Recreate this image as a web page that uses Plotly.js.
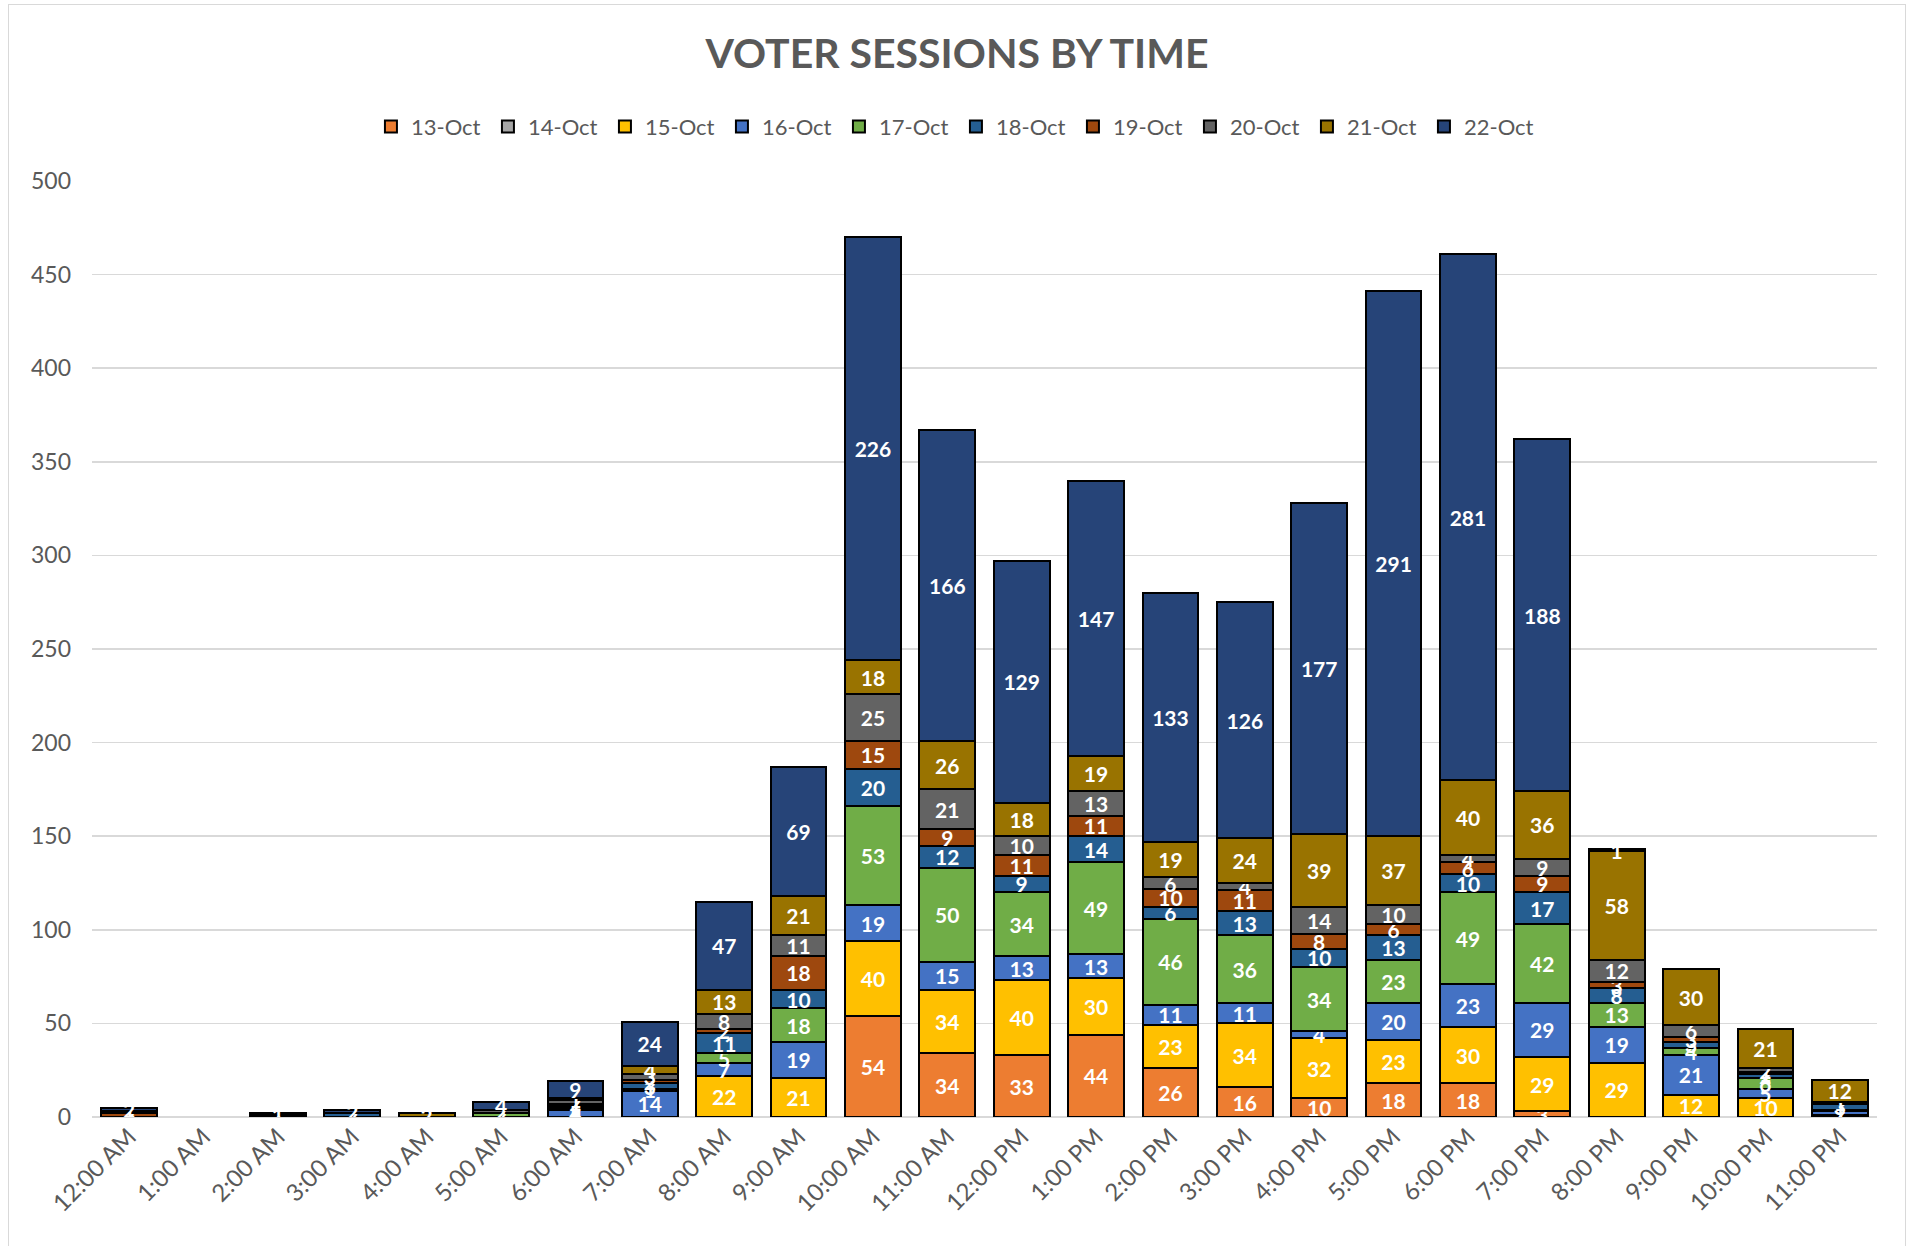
<!DOCTYPE html>
<html>
<head>
<meta charset="utf-8">
<script src="https://cdn.plot.ly/plotly-3.0.1.min.js"></script>
<style>
  html, body { margin: 0; padding: 0; background: #fff; }
  #wrap { position: relative; width: 1914px; height: 1246px; }
  #frame { position: absolute; left: 8px; top: 4px; width: 1898px; height: 1250px; border: 1.5px solid #d9d9d9; box-sizing: border-box; pointer-events: none; }
  #chart { position: absolute; left: 0; top: 0; width: 1914px; height: 1246px; }
</style>
</head>
<body>
<div id="wrap">
  <div id="chart"></div>
  <div id="frame"></div>
</div>
<script>
const times = ["12:00 AM","1:00 AM","2:00 AM","3:00 AM","4:00 AM","5:00 AM","6:00 AM","7:00 AM","8:00 AM","9:00 AM","10:00 AM","11:00 AM","12:00 PM","1:00 PM","2:00 PM","3:00 PM","4:00 PM","5:00 PM","6:00 PM","7:00 PM","8:00 PM","9:00 PM","10:00 PM","11:00 PM"];

const seriesNames = ["13-Oct","14-Oct","15-Oct","16-Oct","17-Oct","18-Oct","19-Oct","20-Oct","21-Oct","22-Oct"];
const seriesColors = ["#ED7D31","#A5A5A5","#FFC000","#4472C4","#70AD47","#255E91","#9E480E","#636363","#997300","#264478"];

//                12A 1A 2A 3A 4A 5A 6A 7A 8A  9A 10A 11A 12P 1P  2P  3P  4P  5P  6P  7P  8P  9P 10P 11P
const oct13 =   [  0, 0, 0, 0, 0, 0, 0, 0, 0,  0, 54, 34, 33, 44, 26, 16, 10, 18, 18,  3,  0,  0,  0,  0];
const oct14 =   [  0, 0, 0, 0, 0, 0, 0, 0, 0,  0,  0,  0,  0,  0,  0,  0,  0,  0,  0,  0,  0,  0,  0,  0];
const oct15 =   [  0, 0, 0, 0, 0, 0, 0, 0, 22, 21, 40, 34, 40, 30, 23, 34, 32, 23, 30, 29, 29, 12, 10,  1];
const oct16 =   [  0, 0, 0, 0, 0, 0, 4, 14, 7, 19, 19, 15, 13, 13, 11, 11,  4, 20, 23, 29, 19, 21,  5,  2];
const oct17 =   [  0, 0, 0, 0, 0, 2, 1, 1, 5, 18, 53, 50, 34, 49, 46, 36, 34, 23, 49, 42, 13,  4,  6,  1];
const oct18 =   [  0, 0, 0, 2, 0, 0, 1, 3, 11, 10, 20, 12,  9, 14,  6, 13, 10, 13, 10, 17,  8,  3,  2,  3];
const oct19 =   [  2, 0, 0, 0, 0, 0, 1, 2, 2, 18, 15,  9, 11, 11, 10, 11,  8,  6,  6,  9,  3,  3,  1,  0];
const oct20 =   [  0, 0, 1, 0, 0, 2, 2, 3, 8, 11, 25, 21, 10, 13,  6,  4, 14, 10,  4,  9, 12,  6,  2,  1];
const oct21 =   [  1, 0, 0, 0, 2, 0, 1, 4, 13, 21, 18, 26, 18, 19, 19, 24, 39, 37, 40, 36, 58, 30, 21, 12];
const oct22 =   [  2, 0, 1, 2, 0, 4, 9, 24, 47, 69, 226, 166, 129, 147, 133, 126, 177, 291, 281, 188, 1, 0, 0, 0];

const seriesValues = [oct13, oct14, oct15, oct16, oct17, oct18, oct19, oct20, oct21, oct22];

const FONT = "Lato, 'Open Sans', sans-serif";

const traces = seriesNames.map((name, i) => ({
  type: "bar",
  name: name,
  x: times,
  y: seriesValues[i].map(v => v === 0 ? null : v),
  text: seriesValues[i].map(v => v === 0 ? "" : String(v)),
  textposition: "inside",
  insidetextanchor: "middle",
  textangle: 0,
  constraintext: "none",
  insidetextfont: { family: FONT, size: 21, color: "#ffffff", weight: "bold" },
  marker: { color: seriesColors[i], line: { color: "#000000", width: 2 } },
  hoverinfo: "x+y+name"
}));

const layout = {
  width: 1914,
  height: 1246,
  barmode: "stack",
  bargap: 0.25,
  paper_bgcolor: "#ffffff",
  plot_bgcolor: "#ffffff",
  font: { family: FONT, color: "#595959", size: 22 },
  uniformtext: { mode: "show", minsize: 21 },
  margin: { l: 92, r: 37, t: 181, b: 129, pad: 0 },
  title: {
    text: "<b>VOTER SESSIONS BY TIME</b>",
    font: { family: FONT, size: 41, color: "#595959" },
    x: 0.5, xanchor: "center",
    y: 0.957, yanchor: "middle"
  },
  legend: {
    orientation: "h",
    x: 0.484, xanchor: "center",
    y: 1.058, yanchor: "middle",
    font: { family: FONT, size: 22, color: "#595959" },
    entrywidth: 72,
    entrywidthmode: "pixels",
    traceorder: "normal",
    itemclick: false
  },
  xaxis: {
    type: "category",
    tickangle: -45,
    tickfont: { family: FONT, size: 24, color: "#595959" },
    showgrid: false,
    showline: false,
    ticks: "",
    zeroline: false
  },
  yaxis: {
    range: [0, 500],
    dtick: 50,
    tick0: 0,
    showgrid: true,
    gridcolor: "#d9d9d9",
    gridwidth: 1.5,
    zeroline: true,
    zerolinecolor: "#d9d9d9",
    zerolinewidth: 2,
    ticks: "",
    ticklabelstandoff: 20,
    tickfont: { family: FONT, size: 23, color: "#595959" }
  },
  showlegend: true
};

Plotly.newPlot("chart", traces, layout, { staticPlot: true, displayModeBar: false });
</script>
</body>
</html>
